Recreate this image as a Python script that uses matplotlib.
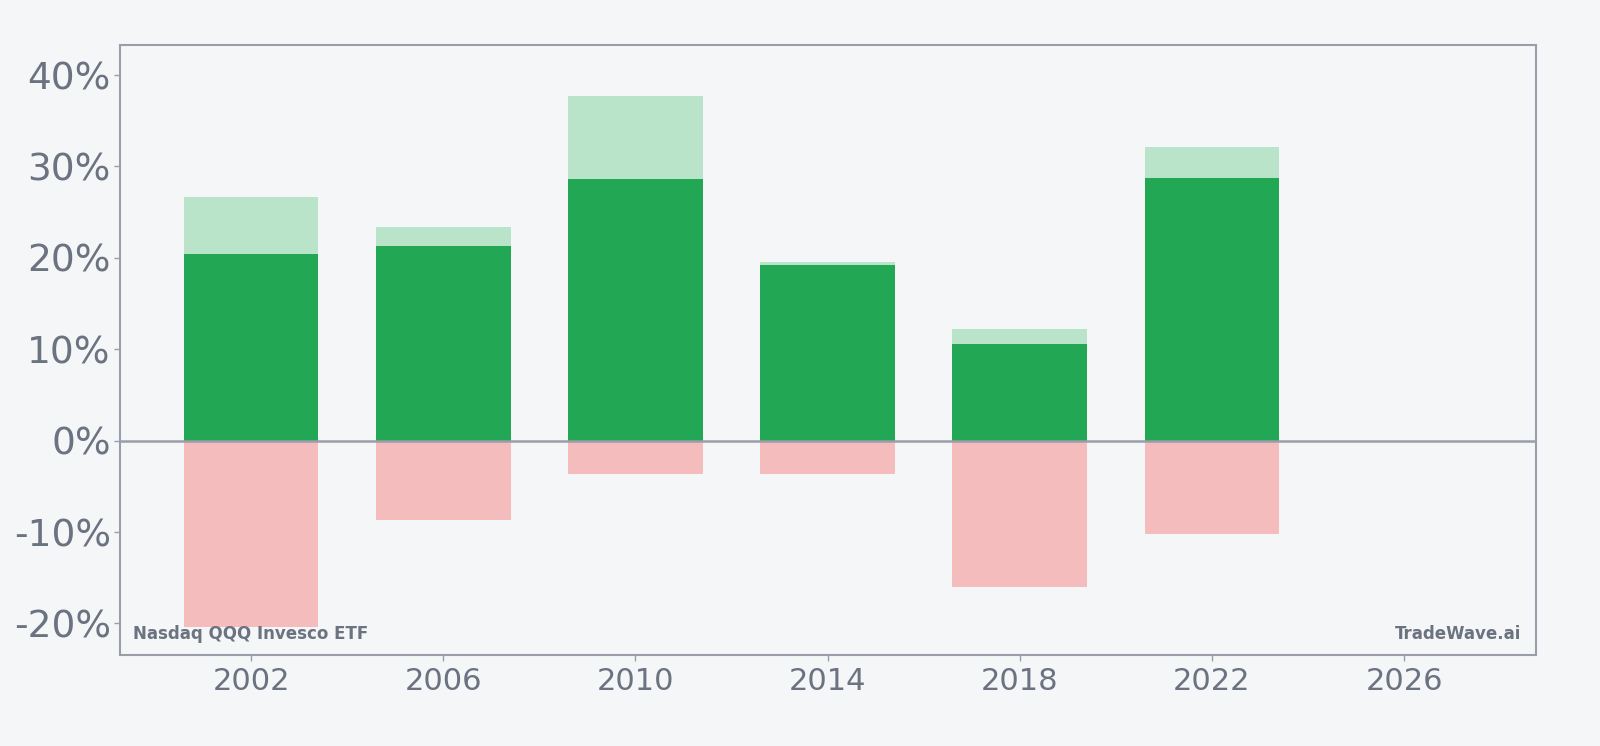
import matplotlib
matplotlib.use("Agg")
import matplotlib.pyplot as plt
from matplotlib.ticker import FuncFormatter

years = [2002, 2006, 2010, 2014, 2018, 2022]
high_pct = [26.7, 23.4, 37.7, 19.5, 12.2, 32.1]
close_pct = [20.4, 21.3, 28.6, 19.2, 10.6, 28.7]
low_pct = [-20.4, -8.7, -3.7, -3.7, -16.0, -10.2]
xticks = [2002, 2006, 2010, 2014, 2018, 2022, 2026]
yticks = [-20, -10, 0, 10, 20, 30, 40]

bg = "#f4f6f8"
axis_col = "#9a9eab"
text_col = "#6b7280"

fig = plt.figure(figsize=(16, 7.46), dpi=100, facecolor=bg)
ax = fig.add_axes([0.0753, 0.122, 0.8845, 0.8178], facecolor=bg)

w = 2.8
ax.bar(years, high_pct, width=w, color="#b9e4c9", zorder=2)
ax.bar(years, close_pct, width=w, color="#22a854", zorder=3)
ax.bar(years, low_pct, width=w, color="#f4bcbd", zorder=2)
ax.axhline(0, color=axis_col, lw=1.8, zorder=4)

ax.set_xlim(1999.28, 2028.74)
ax.set_ylim(-23.45, 43.3)
ax.set_xticks(xticks)
ax.set_yticks(yticks)
ax.yaxis.set_major_formatter(FuncFormatter(lambda v, p: f"{int(v)}%"))
ax.tick_params(axis="y", labelsize=27, colors=axis_col, labelcolor=text_col, length=4, width=1, pad=3)
ax.tick_params(axis="x", labelsize=22, colors=axis_col, labelcolor=text_col, length=4, width=1, pad=5)
for s in ax.spines.values():
    s.set_color(axis_col)
    s.set_linewidth(1.5)

ax.text(0.009, 0.02, "Nasdaq QQQ Invesco ETF", transform=ax.transAxes, fontsize=12,
        fontweight="bold", color=text_col, ha="left", va="bottom")
ax.text(0.99, 0.02, "TradeWave.ai", transform=ax.transAxes, fontsize=12,
        fontweight="bold", color=text_col, ha="right", va="bottom")

fig.savefig("out.png", dpi=100, facecolor=bg)
